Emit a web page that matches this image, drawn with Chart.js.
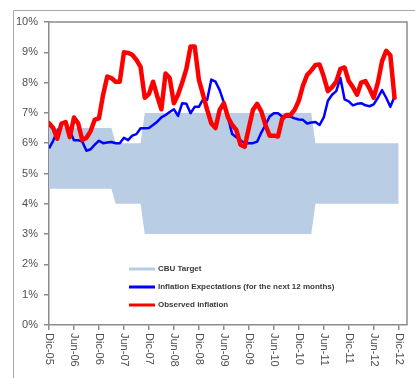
<!DOCTYPE html>
<html>
<head>
<meta charset="utf-8">
<script src="https://cdn.jsdelivr.net/npm/chart.js@4.4.0/dist/chart.umd.min.js"></script>
<style>
html,body{margin:0;padding:0;background:#fff;}
#wrap{position:relative;width:415px;height:378px;}
</style>
</head>
<body>
<div id="wrap"><canvas id="c" width="415" height="378"></canvas></div>
<script>
// ---- Data (month index 0 = Dic-05) ----
const tickMonths = [0, 6, 12, 18, 24, 30, 36, 42, 48, 54, 60, 66, 72, 78, 84];
const tickLabels = ['Dic-05','Jun-06','Dic-06','Jun-07','Dic-07','Jun-08','Dic-08','Jun-09','Dic-09','Jun-10','Dic-10','Jun-11','Dic-11','Jun-12','Dic-12'];
const yTickLabels = ['0%','1%','2%','3%','4%','5%','6%','7%','8%','9%','10%'];

const observedInflation = [6.66,6.5,6.15,6.65,6.7,6.2,6.85,6.66,6.1,6.18,
  6.4,6.78,6.82,7.6,8.2,8.15,8.03,8.03,9.0,8.98,
  8.92,8.75,8.52,7.5,7.62,8.03,7.55,7.12,8.3,8.15,
  7.32,7.6,8.0,8.45,9.19,9.19,8.1,7.6,7.1,6.65,
  6.5,7.1,7.32,6.85,6.6,6.44,5.95,5.88,6.5,7.1,
  7.3,7.05,6.6,6.25,6.25,6.22,6.8,6.93,6.93,7.1,
  7.4,7.9,8.25,8.4,8.58,8.6,8.2,7.72,7.85,8.03,
  8.45,8.5,8.05,7.85,7.6,8.0,8.05,7.8,7.5,8.0,
  8.7,9.05,8.9,7.5];

const expectations = [5.83,6.08,6.4,6.6,6.7,6.4,6.1,6.1,6.05,5.75,
  5.8,5.95,6.08,6.0,6.02,6.04,6.0,6.0,6.18,6.1,
  6.25,6.3,6.49,6.49,6.5,6.6,6.71,6.85,6.93,7.03,
  7.12,6.9,7.32,7.3,6.99,7.2,7.2,7.45,7.43,8.1,
  8.03,7.75,7.35,6.85,6.3,6.2,6.1,6.0,6.0,6.0,
  6.05,6.35,6.6,6.88,6.99,6.99,6.88,6.88,6.88,6.82,
  6.78,6.77,6.65,6.68,6.7,6.6,6.85,7.4,7.6,7.72,
  8.15,7.45,7.38,7.25,7.3,7.32,7.25,7.22,7.28,7.5,
  7.75,7.5,7.2,7.53];

const bandMonths = [0, 15, 16, 22, 23, 63, 64, 84];
const bandUpper  = [6.5, 6.5, 6, 6, 7, 7, 6, 6];
const bandLower  = [4.5, 4.5, 4, 4, 3, 3, 4, 4];

const seriesLabels = ['CBU Target', 'Inflation Expectations (for the next 12 months)', 'Observed inflation'];
const seriesColors = ['rgb(185,205,229)', '#0000ff', '#ff0000'];

const toXY = (vals) => vals.map((v, i) => ({x: i, y: v}));
const toBand = (vals) => vals.map((v, i) => ({x: bandMonths[i], y: v}));

const decor = {
  id: 'decor',
  beforeDraw(chart) {
    const ctx = chart.ctx;
    ctx.save();
    ctx.strokeStyle = '#a8a8a8';
    ctx.lineWidth = 1;
    ctx.beginPath();
    ctx.moveTo(13.5, 378); ctx.lineTo(13.5, 10.5); ctx.lineTo(415, 10.5);
    ctx.stroke();
    ctx.restore();
  },
  afterDraw(chart) {
    const ctx = chart.ctx, a = chart.chartArea, xs = chart.scales.x;
    ctx.save();
    // plot frame top/right
    ctx.strokeStyle = '#8c8c8c';
    ctx.lineWidth = 1.5;
    ctx.beginPath();
    ctx.moveTo(a.left, a.top); ctx.lineTo(a.right, a.top); ctx.lineTo(a.right, a.bottom);
    ctx.stroke();
    // x labels, rotated clockwise
    ctx.fillStyle = '#505050';
    ctx.font = '11px "Liberation Sans", Arial, sans-serif';
    ctx.textAlign = 'left';
    ctx.textBaseline = 'middle';
    tickMonths.forEach((m, i) => {
      const px = xs.getPixelForValue(m);
      ctx.save();
      ctx.translate(px, a.bottom + 8);
      ctx.rotate(Math.PI / 2);
      ctx.fillText(tickLabels[i], 0, 0);
      ctx.restore();
    });
    // legend inside plot
    const lx = a.left + 80, ly = a.top + 247, gap = 18;
    ctx.font = 'bold 8px "Liberation Sans", Arial, sans-serif';
    ctx.textBaseline = 'middle';
    seriesLabels.forEach((lab, i) => {
      const y = ly + i * gap;
      ctx.strokeStyle = seriesColors[i];
      ctx.lineWidth = 3;
      ctx.beginPath(); ctx.moveTo(lx, y); ctx.lineTo(lx + 26, y); ctx.stroke();
      ctx.fillStyle = '#3a3a3a';
      ctx.fillText(lab, lx + 29, y);
    });
    ctx.restore();
  }
};

new Chart(document.getElementById('c'), {
  type: 'line',
  data: {
    datasets: [
      { label: seriesLabels[2], data: toXY(observedInflation), borderColor: seriesColors[2], borderWidth: 4.5, pointRadius: 0, tension: 0, fill: false, borderJoinStyle: 'round', borderCapStyle: 'round' },
      { label: seriesLabels[1], data: toXY(expectations), borderColor: seriesColors[1], borderWidth: 2.5, pointRadius: 0, tension: 0, fill: false, borderJoinStyle: 'round' },
      { label: seriesLabels[0], data: toBand(bandUpper), borderWidth: 0, borderColor: 'rgba(0,0,0,0)', backgroundColor: seriesColors[0], pointRadius: 0, tension: 0, fill: 3 },
      { label: 'lower', data: toBand(bandLower), borderWidth: 0, borderColor: 'rgba(0,0,0,0)', pointRadius: 0, tension: 0, fill: false }
    ]
  },
  options: {
    responsive: false,
    animation: false,
    devicePixelRatio: 1,
    layout: { padding: { top: 22, right: 8, left: 0, bottom: 0 } },
    plugins: { legend: { display: false }, tooltip: { enabled: false } },
    scales: {
      x: {
        type: 'linear', min: 0, max: 86,
        afterBuildTicks: (s) => { s.ticks = tickMonths.map(v => ({value: v})); },
        afterFit: (s) => { s.height = 53; },
        ticks: { display: false },
        grid: { drawOnChartArea: false, drawTicks: true, tickLength: 5, color: '#8c8c8c', lineWidth: 1.5 },
        border: { color: '#8c8c8c', width: 1.5 }
      },
      y: {
        min: 0, max: 10,
        afterFit: (s) => { s.width = 49; },
        ticks: { stepSize: 1, padding: 6, color: '#505050', font: { family: '"Liberation Sans", Arial, sans-serif', size: 11 },
          callback: (v) => yTickLabels[Math.round(v)] },
        grid: { drawOnChartArea: false, drawTicks: true, tickLength: 5, color: '#8c8c8c', lineWidth: 1.5 },
        border: { color: '#8c8c8c', width: 1.5 }
      }
    }
  },
  plugins: [decor]
});
</script>
</body>
</html>
